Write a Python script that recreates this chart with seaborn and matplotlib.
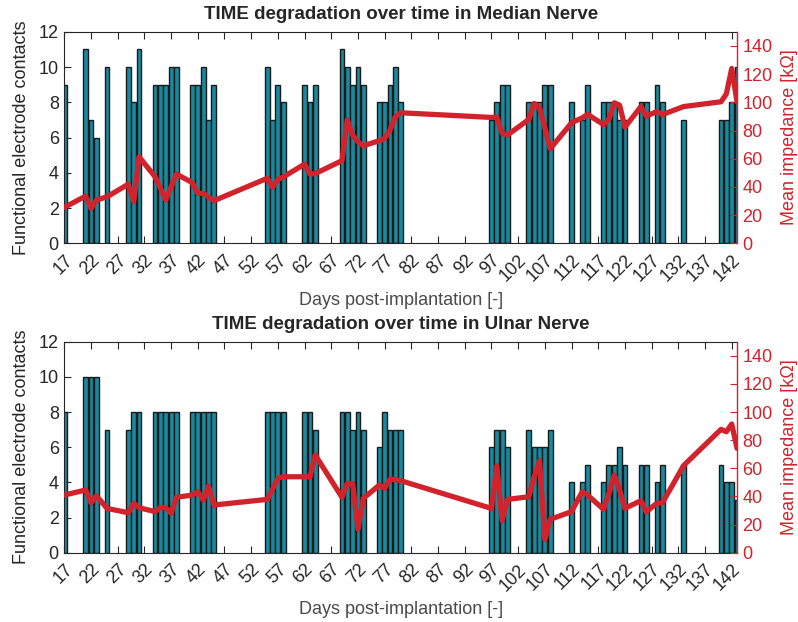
import numpy as np
import pandas as pd
import matplotlib
matplotlib.use("Agg")
import matplotlib.pyplot as plt
import seaborn as sns

# ---------------- data ----------------
median_days = [17, 21, 22, 23, 25, 29, 30, 31, 34, 35, 36, 37, 38, 41, 42, 43, 44, 45,
               55, 56, 57, 58, 62, 63, 64, 69, 70, 71, 72, 73, 76, 77, 78, 79, 80,
               97, 98, 99, 100, 104, 105, 106, 107, 108, 112, 114, 115, 118, 119, 120,
               121, 122, 125, 126, 128, 129, 133, 140, 141, 142, 143]
median_contacts = [9, 11, 7, 6, 10, 10, 8, 11, 9, 9, 9, 10, 10, 9, 9, 10, 7, 9,
                   10, 7, 9, 8, 9, 8, 9, 11, 10, 9, 10, 9, 8, 8, 9, 10, 8,
                   7, 8, 9, 9, 8, 8, 8, 9, 9, 8, 7, 9, 8, 8, 8,
                   7, 7, 8, 8, 9, 8, 7, 7, 7, 8, 10]
median_impedance = [25.5, 33.5, 24.8, 30.7, 33.0, 42.0, 29.5, 61.4, 47.2, 39.0, 30.7, 40.0, 49.1, 43.0, 35.4, 35.4, 33.0, 30.2,
                    46.1, 39.7, 45.4, 47.0, 56.2, 49.1, 49.5, 58.6, 87.4, 76.8, 72.0, 69.2, 72.8, 74.4, 80.3, 89.8, 92.6,
                    89.3, 89.5, 78.0, 76.8, 87.9, 99.2, 96.0, 82.0, 67.0, 85.5, 89.0, 91.5, 84.2, 88.0, 99.7,
                    98.0, 82.4, 97.0, 90.2, 93.5, 91.3, 97.0, 100.4, 106.0, 124.0, 100.4]

ulnar_days = median_days
ulnar_contacts = [8, 10, 10, 10, 7, 7, 8, 8, 8, 8, 8, 8, 8, 8, 8, 8, 8, 8,
                  8, 8, 8, 8, 8, 8, 7, 8, 8, 7, 8, 7, 6, 8, 7, 7, 7,
                  6, 7, 7, 6, 7, 6, 6, 6, 7, 4, 4, 5, 4, 5, 5,
                  6, 5, 5, 5, 4, 5, 5, 5, 4, 4, 3]
ulnar_impedance = [41.0, 44.6, 35.5, 40.5, 31.5, 28.4, 35.1, 32.0, 29.2, 32.2, 32.0, 28.0, 39.4, 41.0, 43.4, 37.5, 47.4, 33.9,
                   37.9, 45.0, 53.0, 54.0, 54.0, 53.8, 69.4, 39.4, 49.3, 48.9, 16.6, 38.6, 48.1, 45.8, 52.2, 52.0, 51.2,
                   31.5, 61.6, 22.8, 37.9, 39.8, 54.0, 65.4, 9.5, 23.7, 29.2, 43.4, 41.0, 30.8, 42.0, 55.2,
                   44.6, 31.5, 37.0, 29.0, 35.3, 35.3, 62.0, 87.7, 86.0, 91.5, 74.2]

titles = ["TIME degradation over time in Median Nerve",
          "TIME degradation over time in Ulnar Nerve"]
xlabel = "Days post-implantation [-]"
ylabel_left = "Functional electrode contacts"
ylabel_right = "Mean impedance [kΩ]"
xtick_values = list(range(17, 143, 5))
left_ticks = [0, 2, 4, 6, 8, 10, 12]
right_ticks = [0, 20, 40, 60, 80, 100, 120, 140]

# ---------------- style ----------------
sns.set_style("white")
plt.rcParams['font.family'] = ['Liberation Sans', 'DejaVu Sans']

TEAL = "#18899e"
RED = "#d2232c"
DARK = "#262626"

fig = plt.figure(figsize=(7.98, 6.22), dpi=100)
positions = [[0.0806, 0.6088, 0.843, 0.3400],
             [0.0806, 0.1114, 0.843, 0.3392]]

panels = [(median_days, median_contacts, median_impedance),
          (ulnar_days, ulnar_contacts, ulnar_impedance)]

for pos, (days, contacts, imp), title in zip(positions, panels, titles):
    ax = fig.add_axes(pos)
    df_bar = pd.DataFrame({"day": days, "contacts": contacts})
    sns.barplot(data=df_bar, x="day", y="contacts", native_scale=True,
                color=TEAL, saturation=1, edgecolor="#1a1a1a", linewidth=1.0,
                width=0.9, errorbar=None, ax=ax)
    ax.set_xlim(17, 143)
    ax.set_ylim(0, 12)
    ax.set_xticks(xtick_values)
    ax.set_xticklabels([str(v) for v in xtick_values], rotation=45,
                       ha="right", va="top", rotation_mode="anchor")
    ax.set_yticks(left_ticks)
    ax.tick_params(axis="x", direction="in", top=True, bottom=True, length=5,
                   width=0.8, color=DARK, labelcolor=DARK, labelsize=13, pad=6)
    ax.tick_params(axis="y", direction="in", left=True, right=False, length=5,
                   width=0.8, color=DARK, labelcolor=DARK, labelsize=13, pad=4)
    ax.set_xlabel(xlabel, fontsize=13, color="#4a4a4a", labelpad=5)
    ax.set_ylabel(ylabel_left, fontsize=13, color=DARK, labelpad=6)
    ax.set_title(title, fontsize=13.5, fontweight="bold", color=DARK, pad=9)
    for s in ["left", "bottom", "top"]:
        ax.spines[s].set_color(DARK)
        ax.spines[s].set_linewidth(0.8)
    ax.spines["right"].set_visible(False)

    axr = ax.twinx()
    df_line = pd.DataFrame({"day": days, "imp": imp})
    sns.lineplot(data=df_line, x="day", y="imp", color=RED, linewidth=3.8,
                 ax=axr, sort=True)
    axr.set_xlim(17, 143)
    axr.set_ylim(0, 150)
    axr.set_yticks(right_ticks)
    axr.tick_params(axis="y", direction="in", length=5, width=0.8,
                    color=RED, labelcolor=RED, labelsize=13, pad=4)
    axr.set_ylabel(ylabel_right, fontsize=13, color=RED, labelpad=6)
    axr.set_xlabel("")
    axr.spines["right"].set_color(RED)
    axr.spines["right"].set_linewidth(1.0)
    for s in ["left", "bottom", "top"]:
        axr.spines[s].set_visible(False)

fig.savefig("out.png", dpi=100)
